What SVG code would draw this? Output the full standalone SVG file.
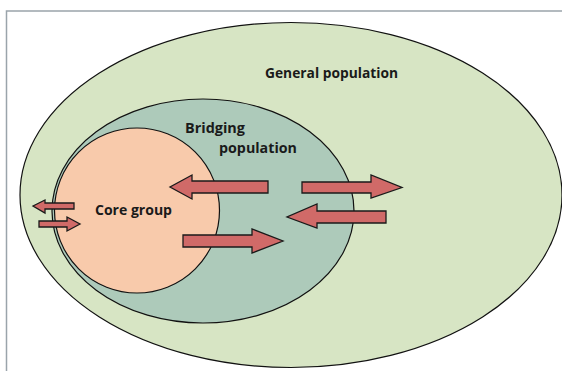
<svg xmlns="http://www.w3.org/2000/svg" width="562" height="371" viewBox="0 0 562 371">
<style>
.lbl{font-family:"Open Sans","Liberation Sans",sans-serif;font-weight:700;font-size:14px;fill:#1a1a1a}
.arr{fill:#d06a68;stroke:#1a1a1a;stroke-width:1.3;stroke-linejoin:miter}
.ring{stroke:#111;stroke-width:1.2}
</style>
<rect width="562" height="371" fill="#fff"/>
<path d="M6.5 371 V11 H562" fill="none" stroke="#9aa4ab" stroke-width="1.5"/>
<g id="general">
<ellipse class="ring" cx="291" cy="195" rx="271" ry="172.5" fill="#d7e5c4"/>
<text class="lbl" x="265" y="78" textLength="133" lengthAdjust="spacingAndGlyphs">General population</text>
</g>
<g id="bridging">
<ellipse class="ring" cx="203" cy="211" rx="151" ry="112" fill="#adcaba"/>
<text class="lbl" x="185" y="133" textLength="60" lengthAdjust="spacingAndGlyphs">Bridging</text>
<text class="lbl" x="219" y="153" textLength="78" lengthAdjust="spacingAndGlyphs">population</text>
</g>
<g id="core">
<circle class="ring" cx="137" cy="210.5" r="82.5" fill="#f8caab"/>
<text class="lbl" x="95" y="215" textLength="77" lengthAdjust="spacingAndGlyphs">Core group</text>
</g>
<g id="connectors">
<polygon class="arr" points="268,181 192,181 192,175 170,187 192,199 192,193 268,193"/>
<polygon class="arr" points="183,235 252,235 252,229 283,241 252,253 252,247 183,247"/>
<polygon class="arr" points="302,182 371,182 371,175 402,187.5 371,198 371,193 302,193"/>
<polygon class="arr" points="386,211 317,211 317,204 287,217 317,228 317,223 386,223"/>
<polygon class="arr" points="74,203 45,203 45,200 33,206 45,213 45,209 74,209"/>
<polygon class="arr" points="39,221 67,221 67,217 80,224 67,231 67,227 39,227"/>
</g>
</svg>
